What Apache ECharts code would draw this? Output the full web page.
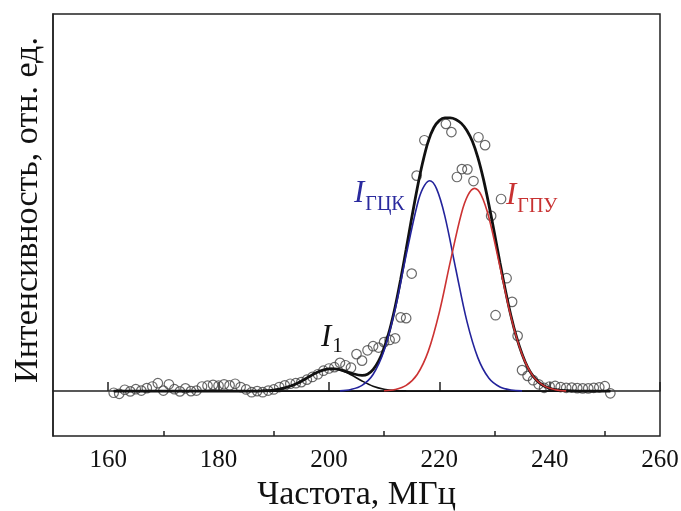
<!DOCTYPE html>
<html>
<head>
<meta charset="utf-8">
<script src="https://cdn.jsdelivr.net/npm/echarts@6/dist/echarts.min.js"></script>
<style>html,body{margin:0;padding:0;background:#fff}#c{width:681px;height:511px}</style>
</head>
<body>
<div id="c"></div>
<script>
// ---- data ----
const xTickLabels = [160, 180, 200, 220, 240, 260];
const xMinorTicks = [170, 190, 210, 230, 250];

const freqPoints = [161,162,163,164,165,166,167,168,169,170,171,172,173,174,175,176,177,178,179,180,
  181,182,183,184,185,186,187,188,189,190,191,192,193,194,195,196,197,198,199,200,
  201,202,203,204,205,206,207,208,209,210,211,212,213,214,215,215.9,217.3,221.2,222.2,223.2,
  224.1,225.1,226.2,227.1,228.3,229.4,230.2,231.2,232.2,233.2,234.2,235.0,236,237,238,239,
  240,241,242,243,244,245,246,247,248,249,250,251];
const intensityPoints = [-0.006,-0.010,0.005,-0.001,0.007,0.002,0.011,0.017,0.029,0.002,0.025,0.007,-0.001,0.010,0.000,0.002,0.017,0.020,0.023,0.020,
  0.025,0.021,0.027,0.015,0.006,-0.004,0.000,-0.004,0.002,0.006,0.015,0.021,0.027,0.029,0.033,0.042,0.052,0.062,0.075,0.083,
  0.088,0.104,0.095,0.086,0.136,0.112,0.150,0.165,0.160,0.180,0.188,0.194,0.271,0.268,0.432,0.792,0.922,0.982,0.952,0.787,
  0.816,0.815,0.772,0.933,0.904,0.644,0.279,0.706,0.415,0.328,0.203,0.077,0.056,0.040,0.025,0.012,
  0.017,0.019,0.015,0.012,0.013,0.011,0.010,0.010,0.012,0.014,0.018,-0.008];

const freqTotal = [161,186,188,190,192,194,196,198,200,201,202,204,206,207,208,209,210,211,212,213,214,215,216,217,218,219,220,221,222,223,224,225,226,227,228,229,230,231,232,233,234,235,236,237,238,239,240,241,242,244,246,251];
const valTotal  = [0,0,0.001,0.004,0.012,0.026,0.048,0.070,0.082,0.082,0.079,0.066,0.058,0.062,0.079,0.110,0.158,0.224,0.309,0.410,0.521,0.636,0.745,0.841,0.918,0.968,0.994,1.004,1.004,0.998,0.984,0.958,0.918,0.858,0.779,0.684,0.580,0.472,0.369,0.276,0.198,0.136,0.088,0.055,0.033,0.019,0.010,0.005,0.003,0.001,0,0];

const freqI1 = [186,188,190,192,194,196,198,200,200.5,202,204,206,208,210,212,214];
const valI1  = [0,0.001,0.004,0.012,0.026,0.048,0.070,0.082,0.083,0.078,0.060,0.037,0.018,0.007,0.002,0.001];

const freqFcc = [202,204,206,208,210,212,214,216,217,218.25,219.5,221,223,225,227,229,231,233,235];
const valFcc  = [0.001,0.006,0.021,0.061,0.149,0.301,0.500,0.684,0.744,0.773,0.744,0.644,0.448,0.257,0.122,0.047,0.015,0.004,0.001];

const freqHcp = [210,212,214,216,218,220,222,224,225.2,226.4,227.6,229,231,233,235,237,239,241,243];
const valHcp  = [0.0015,0.006,0.021,0.061,0.146,0.289,0.476,0.652,0.720,0.745,0.720,0.637,0.457,0.272,0.135,0.055,0.019,0.005,0.001];

const freqBase = [161, 251];
const valBase  = [0, 0];

const xTitle = 'Частота, МГц';
const yTitle = 'Интенсивность, отн. ед.';

// ---- build ----
const zip = (a, b) => a.map((v, i) => [v, b[i]]);
const FONT = '"Liberation Serif", "Times New Roman", serif';
const chart = echarts.init(document.getElementById('c'), null, {renderer: 'canvas'});

const lineBase = {type: 'line', showSymbol: false, symbol: 'none', smooth: 0.35, animation: false};

chart.setOption({
  animation: false,
  backgroundColor: '#fff',
  grid: {left: 53, right: 21, top: 14, bottom: 75, containLabel: false, outerBoundsMode: 'none',
         show: true, borderColor: '#222', borderWidth: 1.5, backgroundColor: 'transparent'},
  xAxis: [{
    type: 'value', min: 150, max: 260,
    axisLine: {show: true, lineStyle: {color: '#222', width: 1.5}},
    axisTick: {show: true, inside: true, length: 9, customValues: xTickLabels, lineStyle: {color: '#222', width: 1.5}},
    axisLabel: {show: true, customValues: xTickLabels, margin: 12, color: '#111', fontFamily: FONT, fontSize: 25},
    splitLine: {show: false},
    name: xTitle, nameLocation: 'middle', nameGap: 39,
    nameTextStyle: {color: '#111', fontFamily: FONT, fontSize: 34}
  }, {
    type: 'value', min: 150, max: 260, position: 'bottom',
    axisLine: {show: false},
    axisTick: {show: true, inside: true, length: 5, customValues: xMinorTicks, lineStyle: {color: '#222', width: 1.5}},
    axisLabel: {show: false},
    splitLine: {show: false}
  }],
  yAxis: {
    type: 'value', min: -0.165, max: 1.386,
    axisLine: {show: true, lineStyle: {color: '#222', width: 1.5}},
    axisTick: {show: false}, axisLabel: {show: false}, splitLine: {show: false},
    name: yTitle, nameLocation: 'middle', nameGap: 8, nameRotate: 90,
    nameTextStyle: {color: '#111', fontFamily: FONT, fontSize: 34, padding: [0, 0, 0, 30]}
  },
  series: [
    {type: 'scatter', data: zip(freqPoints, intensityPoints), symbol: 'circle', symbolSize: 9.5,
     itemStyle: {color: 'rgba(255,255,255,0)', borderColor: '#444', borderWidth: 1.2}, z: 1, animation: false},
    Object.assign({}, lineBase, {data: zip(freqBase, valBase), lineStyle: {color: '#111', width: 1.6}, z: 2}),
    Object.assign({}, lineBase, {data: zip(freqTotal, valTotal), lineStyle: {color: '#111', width: 2.8}, z: 3}),
    Object.assign({}, lineBase, {data: zip(freqI1, valI1), lineStyle: {color: '#111', width: 1.5}, z: 4}),
    Object.assign({}, lineBase, {data: zip(freqFcc, valFcc), lineStyle: {color: '#23239b', width: 1.6}, z: 4}),
    Object.assign({}, lineBase, {data: zip(freqHcp, valHcp), lineStyle: {color: '#cc3333', width: 1.6}, z: 4})
  ],
  graphic: [
    {type: 'text', left: 321, top: 322, z: 10, style: {
      text: '{i|I}{s|1}', rich: {
        i: {fontFamily: FONT, fontStyle: 'italic', fontSize: 31, fill: '#111'},
        s: {fontFamily: FONT, fontSize: 21, fill: '#111', padding: [18, 0, 0, 1]}
      }}},
    {type: 'text', left: 354, top: 178, z: 10, style: {
      text: '{i|I}{s|ГЦК}', rich: {
        i: {fontFamily: FONT, fontStyle: 'italic', fontSize: 31, fill: '#2a2a9e'},
        s: {fontFamily: FONT, fontSize: 20, fill: '#2a2a9e', padding: [22, 0, 0, 1]}
      }}},
    {type: 'text', left: 506, top: 180, z: 10, style: {
      text: '{i|I}{s|ГПУ}', rich: {
        i: {fontFamily: FONT, fontStyle: 'italic', fontSize: 31, fill: '#c83232'},
        s: {fontFamily: FONT, fontSize: 20, fill: '#c83232', padding: [22, 0, 0, 1]}
      }}}
  ]
});
</script>
</body>
</html>
